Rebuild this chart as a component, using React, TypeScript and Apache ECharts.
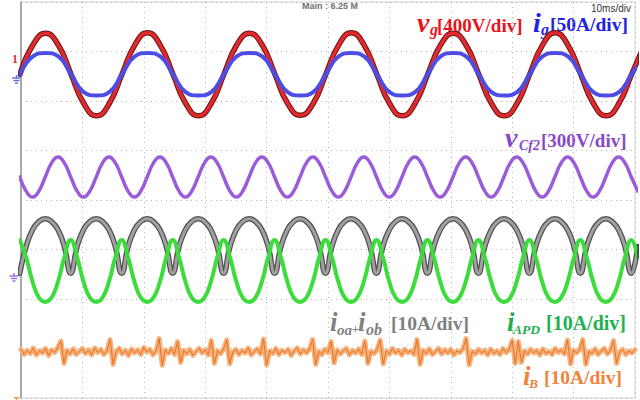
import React, { useEffect, useRef } from "react";
import * as echarts from "echarts";

// time samples (ms) for the 60 Hz channels
const tMain = [-0.15, 1.93, 4.0, 6.08, 8.15, 10.23, 12.3, 14.38, 16.45, 18.53, 20.6, 22.68, 24.75, 26.83, 28.9, 30.98, 33.05, 35.13, 37.2, 39.28, 41.35, 43.43, 45.5, 47.58, 49.65, 51.73, 53.8, 55.88, 57.95, 60.03, 62.1, 64.18, 66.25, 68.33, 70.4, 72.48, 74.55, 76.63, 78.7, 80.78, 82.85, 84.93, 87.0, 89.08, 91.15, 93.23, 95.3, 97.38, 99.45, 101.53];
// vg trace, in screen divisions
const vgDiv = [2.54, 3.13, 3.37, 3.13, 2.54, 1.95, 1.7, 1.95, 2.54, 3.13, 3.38, 3.13, 2.54, 1.95, 1.7, 1.95, 2.54, 3.13, 3.37, 3.13, 2.54, 1.95, 1.71, 1.95, 2.54, 3.13, 3.38, 3.13, 2.54, 1.95, 1.7, 1.95, 2.54, 3.13, 3.37, 3.13, 2.54, 1.95, 1.7, 1.95, 2.54, 3.13, 3.38, 3.13, 2.54, 1.95, 1.7, 1.95, 2.54, 3.13];
// ig trace, in screen divisions
const igDiv = [2.54, 2.9, 2.97, 2.9, 2.54, 2.18, 2.11, 2.18, 2.54, 2.9, 2.97, 2.9, 2.54, 2.18, 2.11, 2.18, 2.54, 2.9, 2.97, 2.9, 2.54, 2.18, 2.11, 2.18, 2.54, 2.9, 2.97, 2.9, 2.54, 2.18, 2.11, 2.18, 2.54, 2.9, 2.97, 2.9, 2.54, 2.18, 2.11, 2.18, 2.54, 2.9, 2.97, 2.9, 2.54, 2.18, 2.11, 2.18, 2.54, 2.9];

// time samples (ms) for the 120 Hz channels
const tCf2 = [-0.2, 0.84, 1.88, 2.91, 3.95, 4.99, 6.03, 7.06, 8.1, 9.14, 10.18, 11.21, 12.25, 13.29, 14.33, 15.36, 16.4, 17.44, 18.48, 19.51, 20.55, 21.59, 22.63, 23.66, 24.7, 25.74, 26.78, 27.81, 28.85, 29.89, 30.93, 31.96, 33.0, 34.04, 35.08, 36.11, 37.15, 38.19, 39.23, 40.26, 41.3, 42.34, 43.38, 44.41, 45.45, 46.49, 47.53, 48.56, 49.6, 50.64, 51.68, 52.71, 53.75, 54.79, 55.83, 56.86, 57.9, 58.94, 59.98, 61.01, 62.05, 63.09, 64.13, 65.16, 66.2, 67.24, 68.28, 69.31, 70.35, 71.39, 72.43, 73.46, 74.5, 75.54, 76.58, 77.61, 78.65, 79.69, 80.73, 81.76, 82.8, 83.84, 84.88, 85.91, 86.95, 87.99, 89.03, 90.06, 91.1, 92.14, 93.18, 94.21, 95.25, 96.29, 97.33, 98.36, 99.4, 100.44];
const vCf2Div = [0.465, 0.18, 0.06, 0.18, 0.465, 0.75, 0.87, 0.75, 0.465, 0.18, 0.06, 0.18, 0.465, 0.75, 0.87, 0.75, 0.465, 0.18, 0.06, 0.18, 0.465, 0.75, 0.87, 0.75, 0.465, 0.18, 0.06, 0.18, 0.465, 0.75, 0.87, 0.75, 0.465, 0.18, 0.06, 0.18, 0.465, 0.75, 0.87, 0.75, 0.465, 0.18, 0.06, 0.18, 0.465, 0.75, 0.87, 0.75, 0.465, 0.18, 0.06, 0.18, 0.465, 0.75, 0.87, 0.75, 0.465, 0.18, 0.06, 0.18, 0.465, 0.75, 0.87, 0.75, 0.465, 0.18, 0.06, 0.18, 0.465, 0.75, 0.87, 0.75, 0.465, 0.18, 0.06, 0.18, 0.465, 0.75, 0.87, 0.75, 0.465, 0.18, 0.06, 0.18, 0.465, 0.75, 0.87, 0.75, 0.465, 0.18, 0.06, 0.18, 0.465, 0.75, 0.87, 0.75, 0.465, 0.18];
const ioabDiv = [-1.48, -0.94, -0.6, -0.435, -0.38, -0.435, -0.6, -0.94, -1.48, -0.94, -0.6, -0.435, -0.38, -0.435, -0.6, -0.94, -1.48, -0.94, -0.6, -0.435, -0.38, -0.435, -0.6, -0.94, -1.48, -0.94, -0.6, -0.435, -0.38, -0.435, -0.6, -0.94, -1.48, -0.94, -0.6, -0.435, -0.38, -0.435, -0.6, -0.94, -1.48, -0.94, -0.6, -0.435, -0.38, -0.435, -0.6, -0.94, -1.48, -0.94, -0.6, -0.435, -0.38, -0.435, -0.6, -0.94, -1.48, -0.94, -0.6, -0.435, -0.38, -0.435, -0.6, -0.94, -1.48, -0.94, -0.6, -0.435, -0.38, -0.435, -0.6, -0.94, -1.48, -0.94, -0.6, -0.435, -0.38, -0.435, -0.6, -0.94, -1.48, -0.94, -0.6, -0.435, -0.38, -0.435, -0.6, -0.94, -1.48, -0.94, -0.6, -0.435, -0.38, -0.435, -0.6, -0.94, -1.48, -0.94];
const iAPDDiv = [-0.81, -1.16, -1.65, -1.97, -2.06, -1.97, -1.65, -1.16, -0.81, -1.16, -1.65, -1.97, -2.06, -1.97, -1.65, -1.16, -0.81, -1.16, -1.65, -1.97, -2.06, -1.97, -1.65, -1.16, -0.81, -1.16, -1.65, -1.97, -2.06, -1.97, -1.65, -1.16, -0.81, -1.16, -1.65, -1.97, -2.06, -1.97, -1.65, -1.16, -0.81, -1.16, -1.65, -1.97, -2.06, -1.97, -1.65, -1.16, -0.81, -1.16, -1.65, -1.97, -2.06, -1.97, -1.65, -1.16, -0.81, -1.16, -1.65, -1.97, -2.06, -1.97, -1.65, -1.16, -0.81, -1.16, -1.65, -1.97, -2.06, -1.97, -1.65, -1.16, -0.81, -1.16, -1.65, -1.97, -2.06, -1.97, -1.65, -1.16, -0.81, -1.16, -1.65, -1.97, -2.06, -1.97, -1.65, -1.16, -0.81, -1.16, -1.65, -1.97, -2.06, -1.97, -1.65, -1.16, -0.81, -1.16];

// iB trace (noisy), time samples (ms) and values (div)
const tB = [0, 0.5, 1, 1.5, 2, 2.5, 3, 3.5, 4, 4.5, 5, 5.5, 6, 6.5, 7, 7.5, 8, 8.5, 9, 9.5, 10, 10.5, 11, 11.5, 12, 12.5, 13, 13.5, 14, 14.5, 15, 15.5, 16, 16.5, 17, 17.5, 18, 18.5, 19, 19.5, 20, 20.5, 21, 21.5, 22, 22.5, 23, 23.5, 24, 24.5, 25, 25.5, 26, 26.5, 27, 27.5, 28, 28.5, 29, 29.5, 30, 30.5, 31, 31.5, 32, 32.5, 33, 33.5, 34, 34.5, 35, 35.5, 36, 36.5, 37, 37.5, 38, 38.5, 39, 39.5, 40, 40.5, 41, 41.5, 42, 42.5, 43, 43.5, 44, 44.5, 45, 45.5, 46, 46.5, 47, 47.5, 48, 48.5, 49, 49.5, 50, 50.5, 51, 51.5, 52, 52.5, 53, 53.5, 54, 54.5, 55, 55.5, 56, 56.5, 57, 57.5, 58, 58.5, 59, 59.5, 60, 60.5, 61, 61.5, 62, 62.5, 63, 63.5, 64, 64.5, 65, 65.5, 66, 66.5, 67, 67.5, 68, 68.5, 69, 69.5, 70, 70.5, 71, 71.5, 72, 72.5, 73, 73.5, 74, 74.5, 75, 75.5, 76, 76.5, 77, 77.5, 78, 78.5, 79, 79.5, 80, 80.5, 81, 81.5, 82, 82.5, 83, 83.5, 84, 84.5, 85, 85.5, 86, 86.5, 87, 87.5, 88, 88.5, 89, 89.5, 90, 90.5, 91, 91.5, 92, 92.5, 93, 93.5, 94, 94.5, 95, 95.5, 96, 96.5, 97, 97.5, 98, 98.5, 99, 99.5, 100];
const iBDiv = [
  -3.02, -3.12, -3.04, -3.1, -2.99, -3.13, -3.05, -3.09, -3.0, -3.14,
  -3.03, -3.08, -2.98, -2.85, -3.3, -3.04, -3.11, -3.01, -3.12, -3.06,
  -3.0, -3.1, -3.03, -3.13, -2.99, -3.08, -3.02, -3.12, -3.05, -2.82,
  -3.32, -3.06, -3.0, -3.11, -3.04, -3.14, -3.01, -3.09, -3.03, -3.12,
  -2.98, -3.07, -3.02, -3.13, -3.05, -2.8, -3.34, -3.03, -3.1, -3.0,
  -3.12, -2.86, -3.28, -3.04, -3.11, -3.02, -3.14, -3.06, -3.0, -3.09,
  -3.03, -3.13, -2.84, -3.3, -3.05, -3.1, -3.01, -2.83, -3.31, -3.07,
  -3.02, -3.12, -3.04, -3.09, -2.99, -3.13, -3.06, -3.01, -3.11, -2.81,
  -3.33, -3.05, -3.1, -3.0, -3.12, -3.04, -3.08, -3.02, -3.14, -3.05,
  -2.99, -3.11, -3.03, -3.09, -3.01, -2.82, -3.32, -3.06, -3.12, -3.02,
  -3.08, -2.86, -3.29, -3.03, -3.11, -3.05, -3.0, -3.13, -3.04, -3.09,
  -3.01, -3.12, -2.85, -3.3, -3.06, -3.1, -3.02, -2.83, -3.31, -3.05,
  -3.11, -3.0, -3.09, -3.04, -3.13, -3.02, -3.08, -3.05, -3.12, -2.82,
  -3.32, -3.04, -3.1, -3.01, -3.12, -3.06, -3.0, -3.11, -3.03, -3.09,
  -3.02, -3.13, -3.05, -3.08, -3.0, -2.8, -3.33, -3.06, -3.11, -3.02,
  -3.09, -3.04, -3.13, -3.01, -3.1, -3.05, -3.12, -3.0, -3.08, -3.03,
  -2.84, -3.3, -2.86, -3.28, -3.05, -3.11, -3.02, -3.09, -3.04, -3.13,
  -3.01, -3.1, -3.06, -3.12, -3.0, -3.08, -3.03, -3.11, -2.83, -3.31,
  -3.04, -3.09, -3.02, -2.82, -3.32, -3.06, -3.1, -3.01, -3.12, -3.05,
  -3.0, -3.11, -3.04, -2.84, -3.3, -3.07, -3.02, -3.12, -3.05, -3.09,
  -3.03,
];

const pairs = (t: number[], v: number[]) => t.map((x, i) => [x, v[i]]);

const SERIF = '"Liberation Serif", "Times New Roman", serif';

// text fragment positioned by its alphabetic baseline
const txt = (
  text: string,
  x: number,
  base: number,
  size: number,
  color: string,
  italic = false,
  bold = true,
  family = SERIF
) => ({
  type: "text",
  x,
  y: base - size * 0.34,
  silent: true,
  style: {
    text,
    fill: color,
    font: `${italic ? "italic " : ""}${bold ? "bold " : ""}${size}px ${family}`,
    align: "left",
    verticalAlign: "middle",
  },
});

const ground = (cx: number, top: number, color: string) => ({
  type: "group",
  silent: true,
  children: [
    { type: "line", shape: { x1: cx, y1: top, x2: cx, y2: top + 3 }, style: { stroke: color, lineWidth: 1.4 } },
    { type: "line", shape: { x1: cx - 4.5, y1: top + 3, x2: cx + 4.5, y2: top + 3 }, style: { stroke: color, lineWidth: 1.4 } },
    { type: "line", shape: { x1: cx - 3, y1: top + 5.5, x2: cx + 3, y2: top + 5.5 }, style: { stroke: color, lineWidth: 1.4 } },
    { type: "line", shape: { x1: cx - 1.5, y1: top + 8, x2: cx + 1.5, y2: top + 8 }, style: { stroke: color, lineWidth: 1.4 } },
  ],
});

const RED = "#e8141c";
const BLUE = "#2222e6";
const PURPLE = "#8a48c8";
const GRAY = "#808080";
const GREEN = "#1fb050";
const ORANGE = "#f0843c";

const lineSeries = (name: string, data: number[][], color: string, width: number, z: number) => ({
  name,
  type: "line",
  data,
  smooth: true,
  showSymbol: false,
  silent: true,
  z,
  lineStyle: { color, width, cap: "round", join: "round" },
});

export default function App() {
  const ref = useRef<HTMLDivElement>(null);

  useEffect(() => {
    if (!ref.current) return;
    const chart = echarts.init(ref.current, null, { renderer: "svg" });
    const grid = { lineStyle: { color: "#b5b5b5", type: [1, 4], width: 1 } };
    chart.setOption({
      animation: false,
      backgroundColor: "#ffffff",
      grid: { left: 21, right: 5, top: 2, bottom: 2, show: true, borderColor: "#d4d4d4", borderWidth: 1 },
      xAxis: {
        type: "value",
        min: 0,
        max: 100,
        interval: 10,
        axisLine: { show: false },
        axisTick: { show: false },
        axisLabel: { show: false },
        splitLine: { show: true, ...grid },
      },
      yAxis: {
        type: "value",
        min: -4,
        max: 4,
        interval: 1,
        axisLine: { show: true, lineStyle: { color: "#a9a9a9", width: 2 } },
        axisTick: { show: false },
        axisLabel: { show: false },
        splitLine: { show: true, ...grid },
      },
      series: [
        lineSeries("vg edge", pairs(tMain, vgDiv), "#701818", 5.5, 2),
        lineSeries("vg", pairs(tMain, vgDiv), "#e02a2e", 3.4, 3),
        lineSeries("ig", pairs(tMain, igDiv), "#4d4de4", 4, 4),
        lineSeries("vCf2", pairs(tCf2, vCf2Div), "#9a5cd9", 3.5, 4),
        lineSeries("ioa+iob edge", pairs(tCf2, ioabDiv), "#505050", 5.5, 2),
        lineSeries("ioa+iob", pairs(tCf2, ioabDiv), "#a0a0a0", 3, 3),
        lineSeries("iAPD", pairs(tCf2, iAPDDiv), "#3ddc3d", 4, 4),
        { ...lineSeries("iB band", pairs(tB, iBDiv), "#f7b07a", 5, 2), smooth: false },
        { ...lineSeries("iB", pairs(tB, iBDiv), "#e46c16", 0.9, 3), smooth: false },
      ],
      graphic: [
        // scope header texts
        txt("Main : 6.25 M", 302, 9.5, 9, "#707070", false, true, '"Liberation Sans", Arial, sans-serif'),
        txt("10ms/div", 591, 12, 10, "#333333", false, false, '"Liberation Sans", Arial, sans-serif'),
        // channel markers
        txt("1", 12, 63, 12, "#e0303a", false, true),
        ground(16.5, 75, "#5a6ae0"),
        ground(14, 273, "#9868d8"),
        { type: "polygon", silent: true, shape: { points: [[13, 397], [20, 397], [16.5, 400]] }, style: { fill: "#f0a050" } },
        // vg label
        txt("v", 417, 32, 28, RED, true),
        txt("g", 430, 35, 16, RED, true),
        txt("[400V/div]", 437, 31.5, 19, RED),
        // ig label
        txt("i", 533, 32, 28, BLUE, true),
        txt("g", 541, 35, 16, BLUE, true),
        txt("[50A/div]", 550, 31.5, 19.5, BLUE),
        // vCf2 label
        txt("v", 505, 147, 28, PURPLE, true),
        txt("Cf2", 519, 150, 14, PURPLE, true),
        txt("[300V/div]", 541, 146.5, 19, PURPLE),
        // ioa + iob label
        txt("i", 330, 331, 27, GRAY, true),
        txt("oa", 337, 335, 15, GRAY, true),
        txt("+", 352, 333, 12, GRAY),
        txt("i", 358, 331, 27, GRAY, true),
        txt("ob", 366, 335, 16, GRAY, true),
        txt("[10A/div]", 391, 330, 19.5, GRAY),
        // iAPD label
        txt("i", 507, 331, 27, GREEN, true),
        txt("APD", 513, 334, 13.5, GREEN, true),
        txt("[10A/div]", 546, 330, 20, GREEN),
        // iB label
        txt("i", 523, 385, 27, ORANGE, true),
        txt("B", 529, 388, 13.5, ORANGE, true),
        txt("[10A/div]", 544, 384, 19.5, ORANGE),
      ],
    });
    return () => chart.dispose();
  }, []);

  return (
    <div
      ref={ref}
      style={{ position: "absolute", left: 0, top: 0, width: 640, height: 400, background: "#fff" }}
    />
  );
}
